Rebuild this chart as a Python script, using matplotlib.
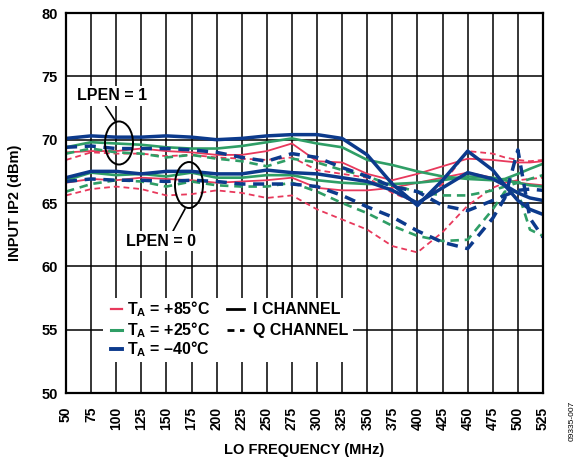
import matplotlib
matplotlib.use("Agg")
import matplotlib.pyplot as plt
from matplotlib.patches import Ellipse, Rectangle

plt.rcParams['font.family'] = ['Liberation Sans', 'DejaVu Sans']
plt.rcParams['font.weight'] = 'bold'
plt.rcParams['mathtext.fontset'] = 'custom'
plt.rcParams['mathtext.rm'] = 'Liberation Sans:bold'
plt.rcParams['mathtext.bf'] = 'Liberation Sans:bold'

# LO frequency points (MHz)
freq = [50, 75, 100, 125, 150, 175, 200, 225, 250, 275, 300, 325, 350, 375,
        400, 425, 450, 475, 487, 500, 512, 525]

# input IP2 (dBm), LPEN = 1
blue_i_lp1 = [70.1, 70.3, 70.2, 70.2, 70.3, 70.2, 70.0, 70.1, 70.3, 70.4, 70.4, 70.1, 68.8, 66.5,
              64.8, 66.8, 69.1, 67.6, 66.4, 65.2, 64.5, 64.1]
blue_q_lp1 = [69.4, 69.5, 69.3, 69.3, 69.3, 69.2, 69.0, 68.6, 68.3, 68.9, 68.6, 67.8, 67.1, 66.3,
              65.9, 64.8, 64.4, 65.2, 65.6, 66.0, 66.1, 66.0]
green_i_lp1 = [69.4, 69.8, 69.7, 69.6, 69.4, 69.3, 69.3, 69.5, 69.8, 70.1, 69.7, 69.4, 68.4, 68.0,
               67.5, 67.1, 66.9, 66.8, 66.9, 67.3, 67.7, 68.1]
green_q_lp1 = [68.9, 69.3, 69.0, 68.9, 68.6, 68.8, 68.5, 68.3, 67.9, 68.5, 68.2, 67.6, 67.1, 66.4,
               65.9, 65.6, 65.6, 66.0, 66.3, 66.6, 66.9, 67.2]
red_i_lp1 = [69.0, 69.1, 69.1, 69.3, 69.1, 69.0, 68.8, 68.8, 69.1, 69.7, 68.3, 68.2, 67.3, 66.8,
             67.3, 67.9, 68.5, 68.4, 68.3, 68.2, 68.2, 68.3]
red_q_lp1 = [68.4, 69.0, 68.9, 68.9, 68.7, 68.8, 68.6, 68.5, 68.4, 68.6, 67.6, 67.3, 67.0, 65.8,
             65.0, 66.5, 69.1, 68.9, 68.6, 68.4, 68.3, 68.4]

# input IP2 (dBm), LPEN = 0
blue_i_lp0 = [67.0, 67.5, 67.5, 67.3, 67.5, 67.5, 67.3, 67.3, 67.6, 67.4, 67.3, 67.0, 66.7, 66.0,
              65.0, 66.2, 67.4, 66.9, 66.4, 65.8, 65.4, 65.2]
blue_q_lp0 = [66.7, 66.9, 66.8, 66.8, 66.7, 66.8, 66.7, 66.5, 66.5, 66.5, 66.3, 65.6, 64.7, 63.9,
              62.8, 61.9, 61.4, 63.8, 65.4, 69.2, 63.8, 62.3]
green_i_lp0 = [66.8, 67.4, 67.2, 67.3, 67.1, 67.4, 67.0, 67.0, 67.2, 67.2, 66.8, 66.6, 66.5, 66.5,
               66.6, 66.8, 67.1, 67.0, 66.8, 66.6, 66.4, 66.3]
green_q_lp0 = [65.9, 66.5, 66.8, 66.7, 66.3, 66.7, 66.4, 66.3, 66.3, 66.6, 65.9, 65.0, 64.2, 63.2,
               62.4, 62.0, 62.1, 64.5, 65.9, 65.9, 62.9, 62.4]
red_i_lp0 = [66.6, 66.9, 66.8, 67.0, 66.9, 66.8, 66.6, 66.7, 66.8, 67.0, 66.2, 66.0, 66.0, 66.2,
             66.6, 67.0, 67.4, 67.0, 66.8, 66.6, 66.5, 66.4]
red_q_lp0 = [65.6, 66.1, 66.3, 66.1, 65.6, 65.7, 66.0, 65.8, 65.4, 65.6, 64.5, 63.7, 62.9, 61.6,
             61.1, 62.7, 64.8, 66.2, 66.6, 66.8, 66.9, 67.0]

temp_labels = [r'$\mathrm{T_A}$ = +85°C', r'$\mathrm{T_A}$ = +25°C', r'$\mathrm{T_A}$ = –40°C']
chan_labels = ['I CHANNEL', 'Q CHANNEL']

RED = '#E8395C'
GREEN = '#2F9E66'
BLUE = '#0C3A8C'

fig = plt.figure(figsize=(5.87, 4.65), dpi=100)
ax = fig.add_axes([0.1124, 0.1548, 0.8126, 0.8172])

dash = (0, (3.2, 2.2))
# red (+85C)
ax.plot(freq, red_q_lp0, color=RED, lw=1.3, ls=dash)
ax.plot(freq, red_q_lp1, color=RED, lw=1.3, ls=dash)
ax.plot(freq, red_i_lp0, color=RED, lw=1.3)
ax.plot(freq, red_i_lp1, color=RED, lw=1.3)
# green (+25C)
ax.plot(freq, green_q_lp0, color=GREEN, lw=1.9, ls=dash)
ax.plot(freq, green_q_lp1, color=GREEN, lw=1.9, ls=dash)
ax.plot(freq, green_i_lp0, color=GREEN, lw=1.9)
ax.plot(freq, green_i_lp1, color=GREEN, lw=1.9)
# blue (-40C)
ax.plot(freq, blue_q_lp0, color=BLUE, lw=2.5, ls=dash)
ax.plot(freq, blue_q_lp1, color=BLUE, lw=2.5, ls=dash)
ax.plot(freq, blue_i_lp0, color=BLUE, lw=2.5)
ax.plot(freq, blue_i_lp1, color=BLUE, lw=2.5)

ax.set_xlim(50, 525)
ax.set_ylim(50, 80)
ax.set_xticks(range(50, 526, 25))
ax.set_yticks(range(50, 81, 5))
ax.tick_params(axis='x', length=0, labelsize=10, pad=10)
ax.tick_params(axis='y', length=0, labelsize=10.5, pad=6)
for lab in ax.get_xticklabels():
    lab.set_rotation(90)
ax.grid(True, color='black', lw=1.1)
for sp in ax.spines.values():
    sp.set_linewidth(1.6)

ax.set_xlabel('LO FREQUENCY (MHz)', fontsize=10.5, fontweight='bold', labelpad=9)
ax.set_ylabel('INPUT IP2 (dBm)', fontsize=10.5, fontweight='bold', labelpad=14)

# LPEN callouts
ax.add_patch(Ellipse((102.8, 69.74), 27.9, 3.4, fill=False, ec='black', lw=1.4, zorder=6))
ax.add_patch(Ellipse((172.5, 66.42), 27.9, 3.63, fill=False, ec='black', lw=1.4, zorder=6))
ax.plot([88.8, 99.8], [72.74, 71.39], color='black', lw=1.2, zorder=6)
ax.plot([168.5, 156.6], [64.53, 62.79], color='black', lw=1.2, zorder=6)
ax.text(95.8, 73.45, 'LPEN = 1', ha='center', va='center', fontsize=11.5, fontweight='bold',
        bbox=dict(facecolor='white', edgecolor='none', pad=1.5), zorder=7)
ax.text(144.6, 62.0, 'LPEN = 0', ha='center', va='center', fontsize=11.5, fontweight='bold',
        bbox=dict(facecolor='white', edgecolor='none', pad=1.5), zorder=7)

# legend drawn by hand so the two columns line up row by row
tr = ax.transAxes
ax.add_patch(Rectangle((0.0776, 0.0816), 0.524, 0.168, transform=tr, facecolor='white',
                       edgecolor='none', zorder=5))
rows = [0.221, 0.1658, 0.1158]
for c, w, lab, yy in zip([RED, GREEN, BLUE], [1.6, 2.2, 2.8], temp_labels, rows):
    ax.plot([0.0943, 0.1174], [yy, yy], color=c, lw=w, transform=tr, zorder=6)
    ax.text(0.1279, yy, lab, transform=tr, ha='left', va='center', fontsize=11.5,
            fontweight='bold', zorder=6)
for ls, lab, yy in zip(['-', (0, (2.5, 2.0))], chan_labels, rows[:2]):
    ax.plot([0.3375, 0.3732], [yy, yy], color='black', lw=2.0, ls=ls, transform=tr, zorder=6)
    ax.text(0.392, yy, lab, transform=tr, ha='left', va='center', fontsize=11.5,
            fontweight='bold', zorder=6)

fig.text(0.975, 0.095, '09335-007', rotation=90, fontsize=6, fontweight='normal',
         ha='center', va='center')

fig.savefig('out.png', dpi=100)
